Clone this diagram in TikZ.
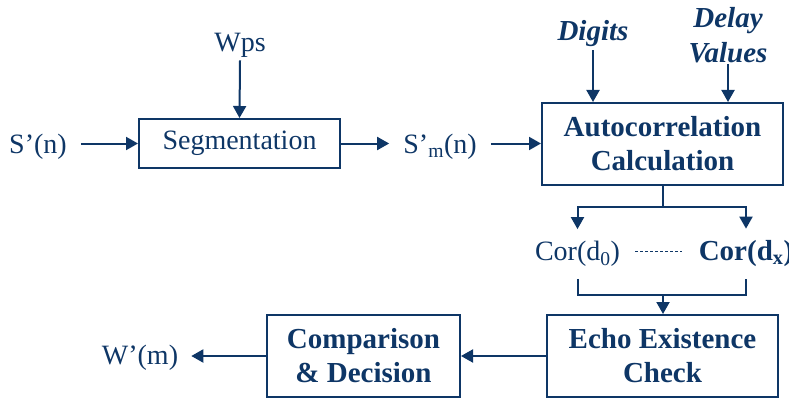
\documentclass[tikz,border=0pt]{standalone}
\usepackage{fontspec}
\setmainfont{Liberation Serif}
\usetikzlibrary{arrows.meta}
\definecolor{navy}{RGB}{14,54,102}
\begin{document}
\begin{tikzpicture}[x=1pt,y=-1pt,
  every node/.style={text=navy,font=\fontsize{28}{34}\selectfont},
  box/.style={draw=navy,line width=2pt,inner sep=0pt,align=center},
  bbox/.style={box,font=\fontsize{29}{34}\selectfont\bfseries},
  lbl/.style={inner sep=0pt,align=center},
  arr/.style={draw=navy,line width=2pt,-{Triangle[length=12pt,width=13pt]}},
  ln/.style={draw=navy,line width=2pt},
  dsh/.style={draw=navy,line width=0.9pt,dash pattern=on 3pt off 2pt}]
\useasboundingbox (0,0) rectangle (789,401);
% boxes
\node[box,minimum width=201pt,minimum height=49pt] (seg) at (239.5,143.5) {\raisebox{-3pt}{Segmentation}};
\node[bbox,minimum width=241pt,minimum height=82pt] (auto) at (662.5,144) {Autocorrelation\\Calculation};
\node[bbox,minimum width=231pt,minimum height=82pt] (echo) at (662.5,356) {Echo Existence\\Check};
\node[bbox,minimum width=193pt,minimum height=82pt] (comp) at (363.5,356) {Comparison\\\&~Decision};
% labels
\node[lbl,inner xsep=14pt] (sn) at (38,147) {S’(n)};
\node[lbl,inner ysep=3pt] (wps) at (240,45) {Wps};
\node[lbl,inner xsep=14pt] (smn) at (440,147) {S’\textsubscript{m}(n)};
\node[lbl,inner ysep=3pt,font=\fontsize{29}{35}\selectfont\bfseries\itshape] (dig) at (593,34) {Digits};
\node[lbl,inner ysep=1pt,font=\fontsize{29}{35}\selectfont\bfseries\itshape] (del) at (728,35) {Delay\\Values};
\node[lbl,inner xsep=0pt,inner ysep=12pt] (cor0) at (577.5,254) {Cor(d\textsubscript{0})};
\node[lbl,inner xsep=0pt,inner ysep=12pt,font=\fontsize{29}{34}\selectfont\bfseries] (corx) at (746,254) {Cor(d\textsubscript{x})};
\node[lbl,inner xsep=13pt] (wm) at (140,358) {W’(m)};
% connectors
\draw[arr] (seg.west -| sn.east) -- (seg.west);
\draw[arr] (wps.south) -- (seg.north);
\draw[arr] (seg.east) -- (seg.east -| smn.west);
\draw[arr] (seg.east -| smn.east) -- (seg.east -| auto.west);
\draw[arr] (dig.south) -- (dig.south |- auto.north);
\draw[arr] (del.south) -- (del.south |- auto.north);
\coordinate (sp) at (663,207);
\draw[ln] (auto.south -| sp) -- (sp);
\draw[arr] (sp) -| (cor0.north);
\draw[arr] (sp) -| (corx.north);
\draw[dsh] ([xshift=15pt,yshift=3pt]cor0.east) -- ([xshift=-17pt,yshift=3pt]corx.west);
\coordinate (mg) at (663,295);
\draw[ln] (cor0.south) |- (mg) -| (corx.south);
\draw[arr] (mg) -- (mg |- echo.north);
\draw[arr] (echo.west) -- (comp.east);
\draw[arr] (comp.west) -- (comp.west -| wm.east);
\end{tikzpicture}
\end{document}
